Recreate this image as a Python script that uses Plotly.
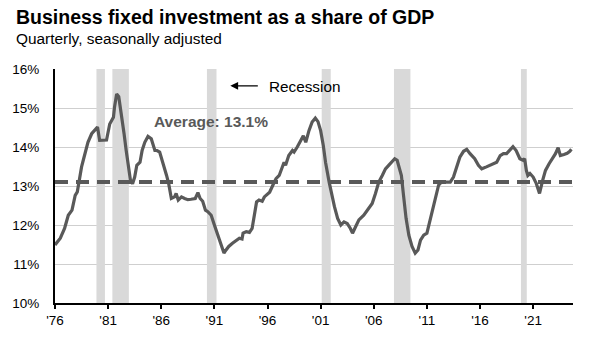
import plotly.graph_objects as go

# ---- data ----
years = [
    1976.0, 1976.5, 1976.9, 1977.25, 1977.6, 1977.9, 1978.1, 1978.25, 1978.5, 1978.66,
    1979.0, 1979.1, 1979.45, 1979.75, 1980.0, 1980.2, 1980.5, 1980.85, 1981.15, 1981.5,
    1981.6, 1981.8, 1982.0, 1982.25, 1982.5, 1982.7, 1982.9, 1983.1, 1983.3, 1983.5,
    1983.7, 1984.0, 1984.2, 1984.45, 1984.75, 1985.06, 1985.4, 1985.6, 1985.85, 1986.16,
    1986.5, 1986.7, 1986.95, 1987.25, 1987.4, 1987.6, 1987.9, 1988.2, 1988.5, 1988.8,
    1989.2, 1989.45, 1989.66, 1989.9, 1990.16, 1990.38, 1990.7, 1991.0, 1991.3, 1991.6,
    1991.9, 1992.1, 1992.35, 1992.7, 1993.0, 1993.35, 1993.6, 1993.7, 1994.0, 1994.3,
    1994.55, 1994.75, 1994.97, 1995.2, 1995.5, 1995.7, 1996.0, 1996.2, 1996.5, 1996.8,
    1997.1, 1997.4, 1997.56, 1997.7, 1998.0, 1998.35, 1998.5, 1998.8, 1999.1, 1999.37,
    1999.6, 1999.9, 2000.2, 2000.5, 2000.75, 2001.0, 2001.25, 2001.46, 2001.8, 2002.03,
    2002.3, 2002.6, 2002.9, 2003.2, 2003.5, 2003.8, 2004.0, 2004.3, 2004.6, 2005.06,
    2005.4, 2005.7, 2005.85, 2006.16, 2006.47, 2006.8, 2007.1, 2007.4, 2007.7, 2007.97,
    2008.2, 2008.35, 2008.6, 2008.8, 2009.04, 2009.3, 2009.6, 2009.9, 2010.16, 2010.4,
    2010.7, 2011.0, 2011.2, 2011.5, 2011.8, 2012.1, 2012.35, 2012.7, 2013.2, 2013.5,
    2013.8, 2014.1, 2014.45, 2014.75, 2015.06, 2015.5, 2015.85, 2016.16, 2016.6, 2016.95,
    2017.25, 2017.57, 2017.9, 2018.2, 2018.5, 2018.8, 2019.1, 2019.4, 2019.75, 2020.06,
    2020.2, 2020.36, 2020.5, 2020.7, 2021.0, 2021.3, 2021.6, 2021.9, 2022.16, 2022.5,
    2022.8, 2023.1, 2023.35, 2023.56, 2023.9, 2024.2, 2024.45, 2024.6,
]
share = [
    11.49, 11.66, 11.91, 12.25, 12.38, 12.76, 12.85, 13.12, 13.49, 13.66,
    14.08, 14.12, 14.34, 14.42, 14.51, 14.17, 14.17, 14.18, 14.59, 14.76,
    15.02, 15.36, 15.29, 14.85, 14.34, 13.91, 13.49, 13.15, 13.06, 13.23,
    13.53, 13.61, 13.91, 14.12, 14.27, 14.21, 13.91, 13.91, 13.87, 13.61,
    13.27, 13.06, 12.68, 12.72, 12.81, 12.64, 12.72, 12.68, 12.65, 12.66,
    12.68, 12.83, 12.68, 12.61, 12.38, 12.34, 12.25, 12.00, 11.74, 11.49,
    11.28, 11.36, 11.45, 11.53, 11.59, 11.66, 11.64, 11.79, 11.83, 11.81,
    11.91, 12.25, 12.59, 12.64, 12.61, 12.72, 12.78, 12.84, 13.02, 13.19,
    13.27, 13.49, 13.61, 13.53, 13.78, 13.91, 13.87, 14.00, 14.17, 14.29,
    14.12, 14.42, 14.64, 14.74, 14.65, 14.42, 14.04, 13.61, 13.10, 12.76,
    12.47, 12.17, 12.00, 12.08, 12.04, 11.91, 11.79, 11.96, 12.13, 12.25,
    12.38, 12.51, 12.55, 12.81, 13.10, 13.27, 13.44, 13.53, 13.61, 13.70,
    13.66, 13.53, 13.27, 12.76, 12.17, 11.74, 11.45, 11.28, 11.36, 11.61,
    11.74, 11.79, 12.00, 12.38, 12.68, 13.02, 13.10, 13.10, 13.10, 13.23,
    13.49, 13.74, 13.89, 13.94, 13.83, 13.70, 13.53, 13.44, 13.49, 13.53,
    13.57, 13.61, 13.78, 13.83, 13.83, 13.91, 14.01, 13.91, 13.70, 13.66,
    13.70, 13.40, 13.27, 13.32, 13.23, 13.06, 12.81, 13.15, 13.40, 13.57,
    13.70, 13.83, 13.98, 13.78, 13.81, 13.84, 13.89, 13.94,
]
average = 13.1
rec_start = [1979.9, 1981.4, 1990.3, 2001.1, 2007.9, 2019.85]
rec_end = [1980.7, 1982.95, 1991.2, 2001.95, 2009.45, 2020.4]
x_tick_years = [1976, 1981, 1986, 1991, 1996, 2001, 2006, 2011, 2016, 2021]
x_tick_labels = ["'76", "'81", "'86", "'91", "'96", "'01", "'06", "'11", "'16", "'21"]
y_tick_vals = [10, 11, 12, 13, 14, 15, 16]
y_tick_labels = ["10%", "11%", "12%", "13%", "14%", "15%", "16%"]
x_range = [1976, 2024.75]
y_range = [10, 16]

title_text = "Business fixed investment as a share of GDP"
subtitle_text = "Quarterly, seasonally adjusted"
avg_text = "Average: 13.1%"
rec_text = "Recession"

FONT = "Arial, Liberation Sans, sans-serif"
LINE = "#595959"

fig = go.Figure()

for s, e in zip(rec_start, rec_end):
    fig.add_shape(type="rect", xref="x", yref="y", x0=s, x1=e, y0=y_range[0], y1=y_range[1],
                  fillcolor="#d9d9d9", line=dict(width=0), layer="between")

fig.add_shape(type="line", xref="paper", yref="y", x0=0, x1=1, y0=average, y1=average,
              line=dict(color=LINE, width=4, dash="13px,8px"), layer="above")

fig.add_trace(go.Scatter(x=years, y=share, mode="lines",
                         line=dict(color=LINE, width=3.2), hoverinfo="skip", showlegend=False))

L, R, T, B = 53, 16, 69, 35
W, H = 589, 340
pw, ph = W - L - R, H - T - B

def px_x(p):
    return (p - L) / pw

def px_y(p):
    return (H - B - p) / ph

fig.update_layout(
    width=W, height=H,
    margin=dict(l=L, r=R, t=T, b=B, pad=0),
    paper_bgcolor="white", plot_bgcolor="white",
    font=dict(family=FONT, color="black"),
    showlegend=False,
    xaxis=dict(range=x_range, tickvals=x_tick_years, ticktext=x_tick_labels,
               showgrid=False, zeroline=False, showline=True, linecolor="black", linewidth=2,
               ticks="outside", ticklen=4, tickwidth=2, tickcolor="black",
               tickfont=dict(size=13.5, family=FONT, color="black")),
    yaxis=dict(range=y_range, tickvals=y_tick_vals, ticktext=y_tick_labels,
               showgrid=True, gridcolor="#cfcfcf", gridwidth=1, zeroline=False,
               showline=True, linecolor="black", linewidth=2, ticks="",
               ticklabelstandoff=11,
               tickfont=dict(size=13.5, family=FONT, color="black")),
    annotations=[
        dict(text="<b>" + title_text + "</b>", xref="paper", yref="paper",
             x=px_x(12), y=px_y(17), xanchor="left", yanchor="middle", showarrow=False,
             font=dict(size=19.5, family=FONT, color="black")),
        dict(text=subtitle_text, xref="paper", yref="paper",
             x=px_x(12), y=px_y(38), xanchor="left", yanchor="middle", showarrow=False,
             font=dict(size=15.4, family=FONT, color="black")),
        dict(text="<b>" + avg_text + "</b>", xref="paper", yref="paper",
             x=px_x(150), y=px_y(122), xanchor="left", yanchor="middle", showarrow=False,
             font=dict(size=15.5, family=FONT, color=LINE)),
        dict(text=rec_text, xref="paper", yref="paper",
             x=px_x(266), y=px_y(86.5), xanchor="left", yanchor="middle", showarrow=False,
             font=dict(size=15.3, family=FONT, color="black")),
        dict(text="", xref="paper", yref="paper", axref="pixel", ayref="pixel",
             x=px_x(229), y=px_y(86), ax=29, ay=0, showarrow=True,
             arrowhead=2, arrowsize=1.2, arrowwidth=1.3, arrowcolor="black", standoff=0),
    ],
)

fig.write_html("out.html")
